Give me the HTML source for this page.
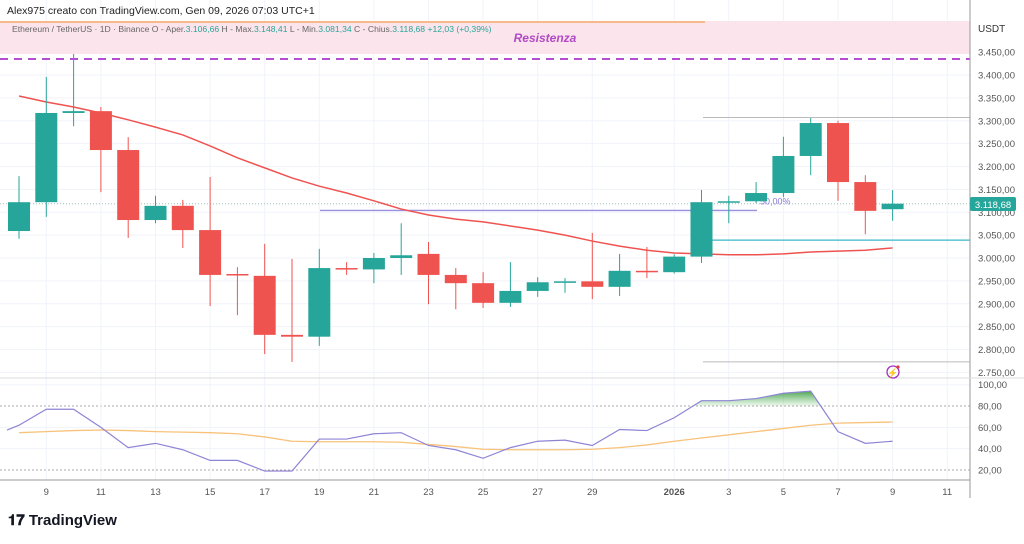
<!DOCTYPE html>
<html><head><meta charset="utf-8"><style>
body{margin:0;background:#fff;font-family:"Liberation Sans",sans-serif;}
svg text{font-family:"Liberation Sans",sans-serif;}
</style></head><body>
<svg id="chart" width="1024" height="539" xmlns="http://www.w3.org/2000/svg">
<rect width="1024" height="539" fill="#fff"/>
<g id="grid"></g>
<rect x="0" y="21" width="970" height="33" fill="#fce4ec"/>
<line x1="0" y1="22" x2="705" y2="22" stroke="#f6b98a" stroke-width="2"/>
<text x="545" y="42" font-size="12" font-style="italic" font-weight="bold" fill="#b04ac4" text-anchor="middle">Resistenza</text>
<text x="7" y="14" font-size="10.5" fill="#222">Alex975 creato con TradingView.com, Gen 09, 2026 07:03 UTC+1</text>
<text x="12" y="32" font-size="8.6" fill="#666">Ethereum / TetherUS · 1D · Binance  O - Aper.<tspan fill="#26a69a">3.106,66</tspan>  H - Max.<tspan fill="#26a69a">3.148,41</tspan>  L - Min.<tspan fill="#26a69a">3.081,34</tspan>  C - Chius.<tspan fill="#26a69a">3.118,68  +12,03 (+0,39%)</tspan></text>
<text x="978" y="32" font-size="10" fill="#333">USDT</text>
<g id="drawings"></g>
<g id="candles"></g>
<g id="rsi"></g>
<line x1="970" y1="0" x2="970" y2="498" stroke="#999" stroke-width="1"/>
<line x1="0" y1="378" x2="1024" y2="378" stroke="#ddd"/>
<line x1="0" y1="480" x2="970" y2="480" stroke="#999"/>
<rect x="970" y="197" width="46" height="14" fill="#26a69a" rx="2"/>
<text x="993" y="208" font-size="9.5" fill="#fff" text-anchor="middle">3.118,68</text>
<g><circle cx="893" cy="372" r="6" fill="none" stroke="#a02ec0" stroke-width="1.3"/><text x="893" y="376" font-size="9" fill="#a02ec0" text-anchor="middle">⚡</text><circle cx="898" cy="367" r="1.6" fill="#e53935"/></g>
<text x="8" y="525" font-size="15" font-weight="bold" fill="#131722">𝟏𝟕 TradingView</text>
</svg>
<script>
const days=["8","9","10","11","12","13","14","15","16","17","18","19","20","21","22","23","24","25","26","27","28","29","30","31","1","2","3","4","5","6","7","8","9"];
const opens=[3059,3122,3317,3321,3236,3083,3114,3061,2965,2961,2832,2828,2978,2975,3000,3009,2963,2945,2902,2928,2947,2949,2937,2972,2969,3003,3122,3124,3142,3223,3295,3166,3106.66];
const highs=[3179,3396,3446,3330,3264,3136,3127,3177,2980,3031,2998,3020,2991,3011,3076,3035,2978,2969,2991,2958,2956,3055,3009,3024,3008,3149,3136,3166,3265,3306,3300,3181,3148.41];
const lows=[3042,3090,3288,3144,3044,3076,3022,2895,2875,2790,2773,2808,2963,2945,2963,2899,2888,2891,2893,2915,2924,2910,2917,2956,2966,2989,3076,3120,3133,3181,3125,3052,3081.34];
const closes=[3122,3317,3321,3236,3083,3114,3061,2963,2963,2832,2828,2978,2975,3000,3006,2963,2945,2902,2928,2947,2949,2937,2972,2969,3003,3122,3124,3142,3223,3295,3166,3103,3118.68];
const smaValues=[3354,3341,3330,3317,3302,3286,3269,3245,3219,3197,3175,3157,3142,3125,3107,3094,3085,3079,3070,3061,3050,3037,3026,3017,3011,3009,3007,3007,3009,3013,3015,3017,3022];
const rsiValues=[62,77,77,60,41,45,39,29,29,19,19,49,49,54,55,43,39,31,41,47,48,43,58,57,69,85,85,87,92,94,56,45,47];
const rsiMaValues=[55,56,57,57.5,57,56,55.5,55,54,51,47,46.5,46.5,46.5,46,44,42,39.5,39,39,39,39.5,41,43.5,47,50,53,56,59,62,64,64.5,65];
const priceTicks=[3450,3400,3350,3300,3250,3200,3150,3100,3050,3000,2950,2900,2850,2800,2750];
const rsiTicks=[100,80,60,40,20];
const xTickLabels=["9","11","13","15","17","19","21","23","25","27","29","2026","3","5","7","9","11"];
const xTickIdx=[1,3,5,7,9,11,13,15,17,19,21,24,26,28,30,32,34];

const NS="http://www.w3.org/2000/svg";
const X=i=>19+i*27.3;
const Y=p=>258-(p-3000)*0.4575;
const R=v=>470-(v-20)*1.066;
function mk(tag,attrs,parent){const e=document.createElementNS(NS,tag);for(const k in attrs)e.setAttribute(k,attrs[k]);parent.appendChild(e);return e;}
const fmt=n=>{const s=n.toFixed(2).replace('.',',');const [a,b]=s.split(',');return a.replace(/\B(?=(\d{3})+(?!\d))/g,'.')+','+b;};

const grid=document.getElementById('grid');
priceTicks.forEach(p=>{
  const l=mk('line',{x1:0,x2:970,y1:Y(p),y2:Y(p),stroke:'#f0f3fa'},grid);
  
  
  const t=mk('text',{x:978,y:Y(p)+3.5,'font-size':9.5,fill:'#555'},grid);t.textContent=fmt(p);
  
  
});
rsiTicks.forEach(v=>{
  const dotted=(v===80||v===20);
  const l=mk('line',{x1:0,x2:970,y1:R(v),y2:R(v),stroke:dotted?'#aaa':'#f0f3fa','stroke-dasharray':dotted?'2,2':'none'},grid);
  
  
  const t=mk('text',{x:978,y:R(v)+3.5,'font-size':9.5,fill:'#555'},grid);t.textContent=v.toFixed(2).replace('.',',');
  
  
});
xTickIdx.forEach((i,k)=>{
  const l=mk('line',{x1:X(i),x2:X(i),y1:0,y2:480,stroke:'#f0f3fa'},grid);
  
  
  const t=mk('text',{x:X(i),y:495,'font-size':9.5,fill:'#555','text-anchor':'middle','font-weight':xTickLabels[k]==='2026'?'bold':'normal'},grid);t.textContent=xTickLabels[k];
  
  
});

const dr=document.getElementById('drawings');
function hl(name,x1,x2,y,stroke,w,dash){const l=mk('line',{x1:x1,x2:x2,y1:y,y2:y,stroke:stroke,'stroke-width':w,'stroke-dasharray':dash||'none'},dr);}
hl('resistance-dashed-line',0,970,Y(3435),'#b44fd1',2,'8,6');
hl('range-high-line',703,970,Y(3307),'#bbb',1);
hl('fib-50-line',320,757,Y(3104),'#9b8fe0',1.3);
hl('range-mid-line',703,970,Y(3039),'#3cb6c8',1.3);
hl('range-low-line',703,970,Y(2773),'#bbb',1);
hl('last-price-line',0,970,Y(3118.68),'#9fbfb8',1,'1,2');
const ft=mk('text',{x:760,y:Y(3104)-6,'font-size':9,fill:'#8a7ad6'},dr);ft.textContent='50,00%';



const cg=document.getElementById('candles');
const sp=mk('polyline',{points:smaValues.map((v,i)=>X(i)+','+Y(v)).join(' '),fill:'none',stroke:'#ef5350','stroke-width':1.5},cg);


days.forEach((d,i)=>{
  const up=closes[i]>=opens[i];const c=up?'#26a69a':'#ef5350';
  const g=mk('g',{},cg);
  
  
  mk('line',{x1:X(i),x2:X(i),y1:Y(highs[i]),y2:Y(lows[i]),stroke:c,'stroke-width':1},g);
  const top=Y(Math.max(opens[i],closes[i])),bot=Y(Math.min(opens[i],closes[i]));
  mk('rect',{x:X(i)-11,y:top,width:22,height:Math.max(1.5,bot-top),fill:c},g);
});

const rg=document.getElementById('rsi');
const defs=mk('defs',{},rg);
const g1=mk('linearGradient',{id:'gg',x1:0,y1:0,x2:0,y2:1},defs);
mk('stop',{offset:0,'stop-color':'#43a047','stop-opacity':0.95},g1);mk('stop',{offset:1,'stop-color':'#66bb6a','stop-opacity':0.1},g1);
const g2=mk('linearGradient',{id:'pg',x1:0,y1:1,x2:0,y2:0},defs);
mk('stop',{offset:0,'stop-color':'#f06292','stop-opacity':0.6},g2);mk('stop',{offset:1,'stop-color':'#f06292','stop-opacity':0.05},g2);
function fillZone(th,above,fillId,name){
  let pts=[];
  for(let i=0;i<rsiValues.length-1;i++){
    const a=rsiValues[i],b=rsiValues[i+1];
    const ina=above?a>th:a<th, inb=above?b>th:b<th;
    if(ina) pts.push([X(i),R(a)]);
    if(ina!==inb){const t=(th-a)/(b-a);const x=X(i)+t*27.3;
      if(!ina) pts=[[x,R(th)]]; else {pts.push([x,R(th)]);const p=mk('polygon',{points:pts.map(q=>q.join(',')).join(' '),fill:'url(#'+fillId+')'},rg);pts=[];}}
  }
}
fillZone(80,true,'gg','rsi-overbought-fill');
fillZone(20,false,'pg','rsi-oversold-fill');
const ma=mk('polyline',{points:rsiMaValues.map((v,i)=>X(i)+','+R(v)).join(' '),fill:'none',stroke:'#f8c27a','stroke-width':1.3},rg);


const rl=mk('polyline',{points:'7,'+R(57.5)+' '+rsiValues.map((v,i)=>X(i)+','+R(v)).join(' '),fill:'none',stroke:'#8e84d6','stroke-width':1.2},rg);


</script>
</body></html>
